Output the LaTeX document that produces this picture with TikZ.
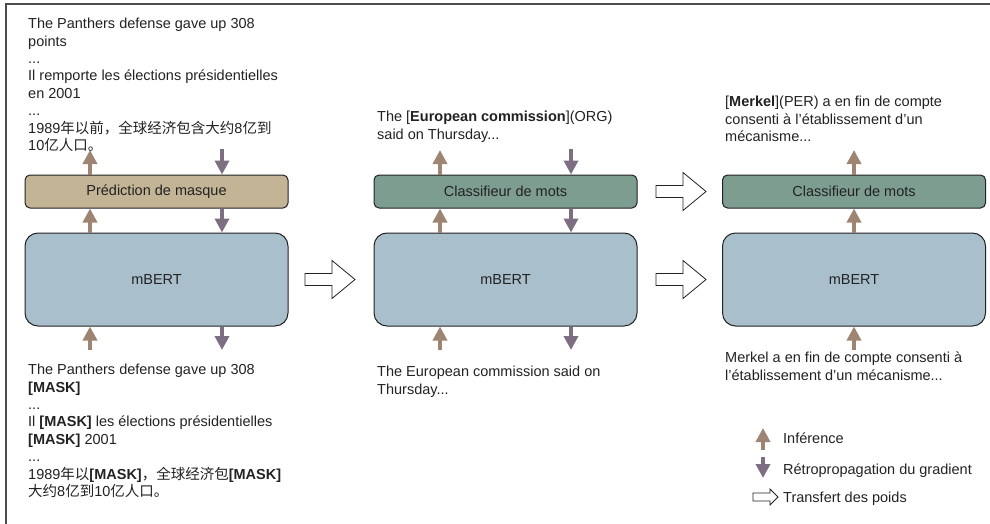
\documentclass[tikz,border=0pt]{standalone}
\usepackage{fontspec}
\setmainfont{Liberation Sans}
\newfontfamily\cjk{Noto Sans CJK SC}
\usetikzlibrary{arrows.meta}

\definecolor{inferc}{HTML}{9E8573}
\definecolor{backc}{HTML}{7D6E82}
\definecolor{predc}{HTML}{C3B495}
\definecolor{bertc}{HTML}{AABFCC}
\definecolor{classc}{HTML}{7E9D91}
\definecolor{inkc}{HTML}{222222}

\tikzset{
  every node/.style={font=\fontsize{14.5}{17.4}\selectfont, text=inkc},
  txt/.style={align=left, anchor=north west, inner sep=0pt},
  legtxt/.style={anchor=base west, inner sep=0pt},
  topbox/.style={draw=inkc, line width=1pt, rounded corners=5pt,
    minimum width=263pt, minimum height=33pt, inner sep=0pt},
  bertbox/.style={draw=inkc, line width=1pt, fill=bertc, rounded corners=13pt,
    minimum width=263pt, minimum height=93pt, inner sep=0pt},
  infer/.style={draw=inferc, line width=4pt, -{Triangle[width=14pt,length=14pt]}},
  backprop/.style={draw=backc, line width=4pt, -{Triangle[width=14pt,length=14pt]}},
  transfer/.style={draw=inkc, line width=0.8pt, fill=white, line join=miter},
}

\begin{document}
\begin{tikzpicture}[x=1pt, y=-1pt]
    \useasboundingbox (0,0) rectangle (990,524);
    \draw[gray!60!black, line width=1.2pt] (6,524) -- (6,4) -- (990,4);

    % boxes
    \node[topbox, fill=predc] (pred) at (156.5,191.5) {Prédiction de masque};
    \node[bertbox] (bert1) at (156.5,279.5) {mBERT};

    \node[topbox, fill=classc] (cls2) at (505.5,191.5) {Classifieur de mots};
    \node[bertbox] (bert2) at (505.5,279.5) {mBERT};

    \node[topbox, fill=classc] (cls3) at (854,191.5) {Classifieur de mots};
    \node[bertbox] (bert3) at (854,279.5) {mBERT};

    % free ends of the arrows
    \coordinate (a1) at (90,150);
    \coordinate (b1) at (222,149);
    \coordinate (c1) at (90,350);
    \coordinate (d1) at (222,350);
    \coordinate (a2) at (440,150);
    \coordinate (b2) at (571,149);
    \coordinate (c2) at (440,350);
    \coordinate (d2) at (571,350);
    \coordinate (a3) at (854,150);
    \coordinate (c3) at (854,350);

    % first column
    \draw[infer] (pred.north -| a1) -- (a1);
    \draw[backprop] (b1) -- (pred.north -| b1);
    \draw[infer] (bert1.north -| a1) -- (pred.south -| a1);
    \draw[backprop] (pred.south -| b1) -- (bert1.north -| b1);
    \draw[infer] (c1) -- (bert1.south -| c1);
    \draw[backprop] (bert1.south -| d1) -- (d1);

    % second column
    \draw[infer] (cls2.north -| a2) -- (a2);
    \draw[backprop] (b2) -- (cls2.north -| b2);
    \draw[infer] (bert2.north -| a2) -- (cls2.south -| a2);
    \draw[backprop] (cls2.south -| b2) -- (bert2.north -| b2);
    \draw[infer] (c2) -- (bert2.south -| c2);
    \draw[backprop] (bert2.south -| d2) -- (d2);

    % third column
    \draw[infer] (cls3.north -| a3) -- (a3);
    \draw[infer] (bert3.north -| a3) -- (cls3.south -| a3);
    \draw[infer] (c3) -- (bert3.south -| c3);

    % weight transfer
    \foreach \x/\y in {305/279.5, 656/191.5, 656/279.5}
    {
        \draw[transfer] (\x,\y-6) -- ++(27,0) -- ++(0,-13) -- ++(23,19)
            -- ++(-23,19) -- ++(0,-13) -- ++(-27,0) -- cycle;
    }

    % texts
    \node[txt] (top1) at (28,18)
    {The Panthers defense gave up 308\\
     points\\
     ...\\
     Il remporte les élections présidentielles\\
     en 2001\\
     ...\\
     1989{\cjk 年以前，全球经济包含大约}8{\cjk 亿到}\\
     10{\cjk 亿人口。}};

    \node[txt] (bot1) at (28,364)
    {The Panthers defense gave up 308\\
     \textbf{[MASK]}\\
     ...\\
     Il \textbf{[MASK]} les élections présidentielles\\
     \textbf{[MASK]} 2001\\
     ...\\
     1989{\cjk 年以}\textbf{[MASK]}{\cjk ，全球经济包}\textbf{[MASK]}\\
     {\cjk 大约}8{\cjk 亿到}10{\cjk 亿人口。}};

    \node[txt] (top2) at (377,111)
    {The [\textbf{European commission}](ORG)\\
     said on Thursday...};

    \node[txt] (bot2) at (377,366)
    {The European commission said on\\
     Thursday...};

    \node[txt] (top3) at (725,96)
    {[\textbf{Merkel}](PER) a en fin de compte\\
     consenti à l’établissement d’un\\
     mécanisme...};

    \node[txt] (bot3) at (725,352)
    {Merkel a en fin de compte consenti à\\
     l’établissement d’un mécanisme...};

    % legend
    \node[legtxt] (leg1) at (783,443) {Inférence};
    \node[legtxt] (leg2) at (783,474) {Rétropropagation du gradient};
    \node[legtxt] (leg3) at (783,502) {Transfert des poids};

    \coordinate (l1) at (763,450);
    \coordinate (l2) at (763,457);
    \draw[infer] (l1) -- ++(0,-22);
    \draw[backprop] (l2) -- ++(0,21);
    \draw[transfer] (753,493) -- ++(17,0) -- ++(0,-4) -- ++(8,8)
        -- ++(-8,8) -- ++(0,-4) -- ++(-17,0) -- cycle;
\end{tikzpicture}
\end{document}
